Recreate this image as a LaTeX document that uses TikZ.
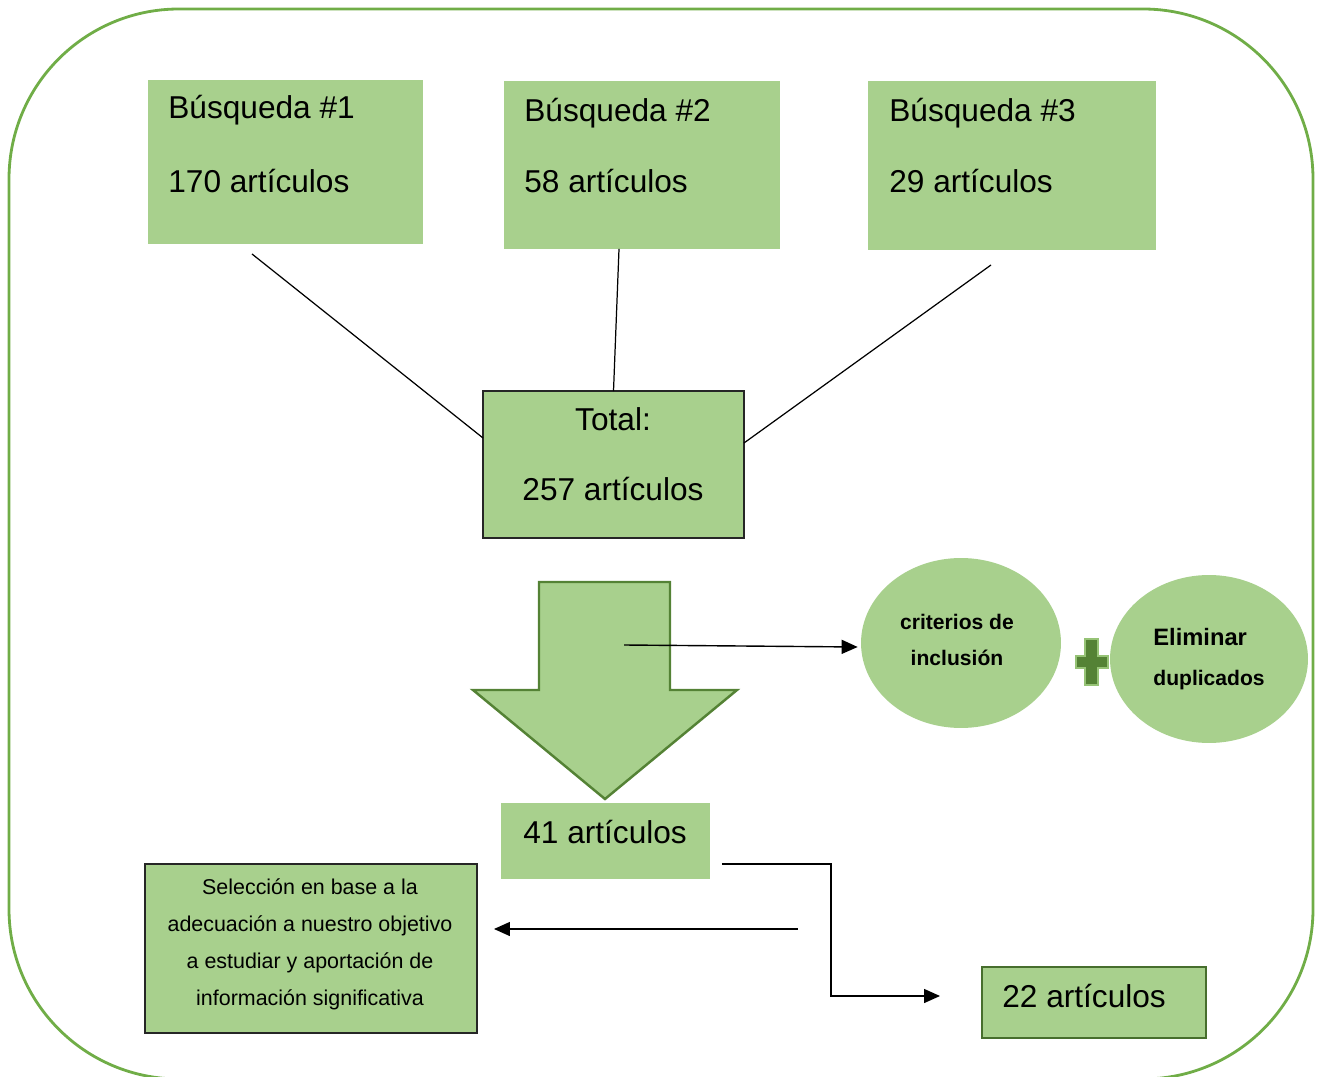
\documentclass[tikz,border=0pt]{standalone}
\usepackage{fontspec}
\setmainfont{Liberation Sans}
\usetikzlibrary{arrows.meta,calc,shapes.geometric}
\definecolor{BoxClr}{RGB}{168,208,141}
\definecolor{FrameClr}{RGB}{112,173,71}
\definecolor{ArrowClr}{RGB}{84,130,53}
\definecolor{PlusEdgeClr}{RGB}{150,195,118}

\tikzset{
  box/.style={fill=BoxClr,inner sep=0pt,outer sep=0pt},
  framed/.style={box,draw=black!85,line width=0.8pt},
  bigtxt/.style={font=\fontsize{18}{21}\selectfont,inner sep=0pt},
  blob/.style={ellipse,fill=BoxClr,inner sep=0pt,align=center,
    font=\bfseries\fontsize{12}{20.5}\selectfont},
  conn/.style={line width=0.8pt,-{Triangle[length=0.32cm,width=0.28cm]}},
  plain/.style={line width=0.7pt}
}

\begin{document}
\begin{tikzpicture}[x=0.02cm,y=-0.02cm]
\useasboundingbox (0,0) rectangle (1322,1077);
\draw[FrameClr,line width=1.6pt,rounded corners=3.4cm] (9,9) rectangle (1313,1079);

\node[box,minimum width=5.5cm,minimum height=3.28cm] (b1) at (285.5,162) {};
\node[box,minimum width=5.52cm,minimum height=3.36cm] (b2) at (642,165) {};
\node[box,minimum width=5.76cm,minimum height=3.38cm] (b3) at (1012,165.5) {};
\node[framed,minimum width=5.22cm,minimum height=2.94cm] (tot) at (613.5,464.5) {};

\node[bigtxt,anchor=base west] (b1a) at (168,119) {Búsqueda \#1};
\node[bigtxt,anchor=base west] (b1b) at (168,193) {170 artículos};
\node[bigtxt,anchor=base west] (b2a) at (524,122) {Búsqueda \#2};
\node[bigtxt,anchor=base west] (b2b) at (524,193) {58 artículos};
\node[bigtxt,anchor=base west] (b3a) at (889,122) {Búsqueda \#3};
\node[bigtxt,anchor=base west] (b3b) at (889,193) {29 artículos};
\node[bigtxt,anchor=base] (tota) at (613,431) {Total:};
\node[bigtxt,anchor=base] (totb) at (613,501) {257 artículos};

\draw[plain] ([shift={(-33.5,10)}]b1.south) -- ([shift={(0,-26.5)}]tot.west);
\draw[plain] ([shift={(-23,0)}]b2.south) -- (tot.north);
\draw[plain] ([shift={(-21,15)}]b3.south) -- ([shift={(0,-21.5)}]tot.east);

\draw[ArrowClr,fill=BoxClr,line width=1.4pt] (539,582) -- (670,582) -- (670,690)
  -- (737,690) -- (605,799) -- (473,690) -- (539,690) -- cycle;
\coordinate (arrmid) at (624,645);

\node[blob,minimum width=4cm,minimum height=3.4cm] (crit) at (961,643) {};
\node[blob,minimum size=0pt] (critt) at (957,640) {criterios de\\inclusión};
\node[blob,minimum width=3.96cm,minimum height=3.36cm,align=left,
  font=\bfseries\fontsize{12}{22.8}\selectfont] (dup) at (1209,659)
  {{\fontsize{13.5}{22.8}\selectfont Eliminar}\\duplicados};

\draw[PlusEdgeClr,fill=ArrowClr,line width=1pt] (1085,639) -- (1098,639) -- (1098,656)
  -- (1108,656) -- (1108,668) -- (1098,668) -- (1098,685) -- (1085,685)
  -- (1085,668) -- (1076,668) -- (1076,656) -- (1085,656) -- cycle;

\draw[conn] (arrmid) -- ([shift={(-3,4)}]crit.west);

\node[box,minimum width=4.18cm,minimum height=1.52cm] (n41) at (605.5,841) {};
\node[bigtxt,anchor=base west] (n41t) at (523,843) {41 artículos};

\node[framed,minimum width=6.64cm,minimum height=3.38cm] (sel) at (311,948.5) {};
\node[align=center,inner sep=0pt,font=\fontsize{12.2}{21}\selectfont] (selt) at (310,944.5)
  {Selección en base a la\\adecuación a nuestro objetivo\\a estudiar y aportación de\\información significativa};

\node[box,draw=ArrowClr!85!black,line width=0.8pt,minimum width=4.48cm,minimum height=1.42cm] (n22) at (1094,1002.5) {};
\node[bigtxt,anchor=base west] (n22t) at (1002,1007) {22 artículos};

\draw[conn] ([shift={(12,23)}]n41.east) -- ++(109,0) |- ([shift={(-42,-6.5)}]n22.west);
\draw[conn] ([shift={(321,-19.5)}]sel.east) -- ([shift={(17,-19.5)}]sel.east);

\end{tikzpicture}
\end{document}
